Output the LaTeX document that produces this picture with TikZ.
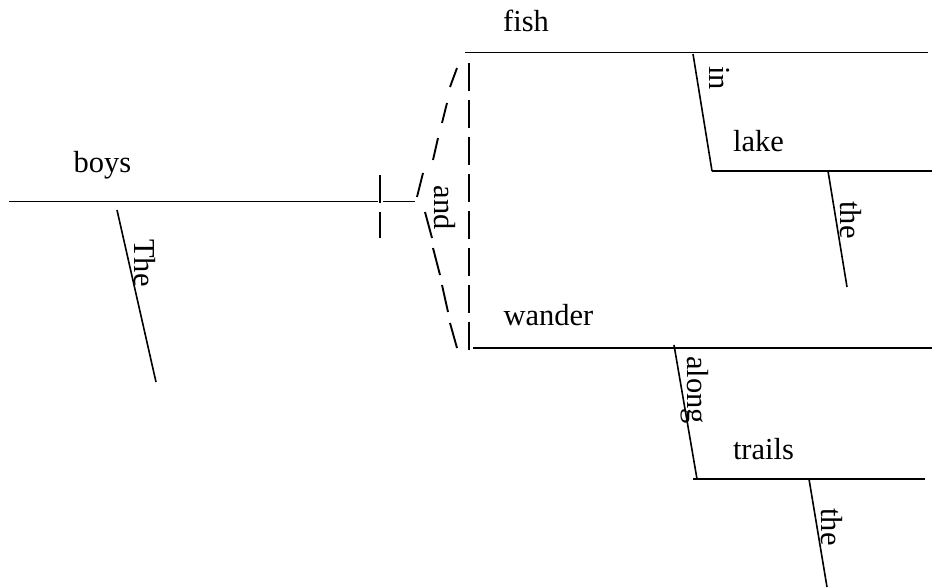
\documentclass[tikz,border=0pt]{standalone}
\usepackage{fontspec}
\setmainfont{Liberation Serif}
\begin{document}
\begin{tikzpicture}[x=1pt,y=-1pt,
  word/.style={font=\fontsize{30.5}{36}\selectfont, inner sep=0pt},
  vword/.style={word, rotate=-90, anchor=center},
  rule/.style={line width=1.9pt},
  slant/.style={line width=1.6pt},
  tick/.style={line width=1.9pt}]
\useasboundingbox (0,0) rectangle (933,588);
% ---- coordinates
\coordinate (boysL) at (9,201.5);
\coordinate (boysR) at (378,201.5);
\coordinate (linkL) at (383,201.5);
\coordinate (linkR) at (415,201.5);
\coordinate (pipeA1) at (380,175);
\coordinate (pipeA2) at (380,203);
\coordinate (pipeB1) at (380,212);
\coordinate (pipeB2) at (380,238);
\coordinate (fishL) at (465,52.5);
\coordinate (fishR) at (928,52.5);
\coordinate (wanderL) at (473,348);
\coordinate (wanderR) at (932,348);
\coordinate (lakeL) at (712,171);
\coordinate (lakeR) at (932,171);
\coordinate (trailsL) at (693,479);
\coordinate (trailsR) at (925,479);
\coordinate (theA1) at (117,210);
\coordinate (theA2) at (156,382);
\coordinate (inA) at (693,54);
\coordinate (theB1) at (828,171);
\coordinate (theB2) at (847,287);
\coordinate (alongA) at (674,345);
\coordinate (alongB) at (697,479);
\coordinate (theC1) at (809,479);
\coordinate (theC2) at (827,587);
% ---- words
\node[word, anchor=base] (boys) at (102.5,172) {boys};
\node[word, anchor=base] (fish) at (526,32) {fish};
\node[word, anchor=base] (wander) at (548.5,325) {wander};
\node[word, anchor=base] (lake) at (758.5,152) {lake};
\node[word, anchor=base] (trails) at (763.5,459) {trails};
\node[vword] (The) at (145,263) {The};
\node[vword] (in) at (720,78) {in};
\node[vword] (the1) at (851,220) {the};
\node[vword] (along) at (695,390) {along};
\node[vword] (the2) at (832,527) {the};
\node[vword] (and) at (445,208) {and};
% ---- base lines
\draw[rule] (boysL) -- (boysR);
\draw[rule] (linkL) -- (linkR);
\draw[rule] (fishL) -- (fishR);
\draw[rule] (wanderL) -- (wanderR);
\draw[rule] (lakeL) -- (lakeR);
\draw[rule] (trailsL) -- (trailsR);
\draw[tick] (pipeA1) -- (pipeA2);
\draw[tick] (pipeB1) -- (pipeB2);
% ---- modifier lines
\draw[slant] (theA1) -- (theA2);
\draw[slant] (inA) -- (lakeL);
\draw[slant] (theB1) -- (theB2);
\draw[slant] (alongA) -- (alongB);
\draw[slant] (theC1) -- (theC2);
% ---- conjunction
\foreach \k in {0,...,7}
  \draw[tick] (469,63+37*\k) -- (469,91+37*\k);
\draw[tick] (457,68) -- (450,87);
\draw[tick] (447,103) -- (442,123);
\draw[tick] (438,138) -- (433,160);
\draw[tick] (423,173) -- (417,197);
\draw[tick] (425,212) -- (432,238);
\draw[tick] (433,248) -- (440,275);
\draw[tick] (442,285) -- (448,312);
\draw[tick] (450,323) -- (457,348);
\end{tikzpicture}
\end{document}
